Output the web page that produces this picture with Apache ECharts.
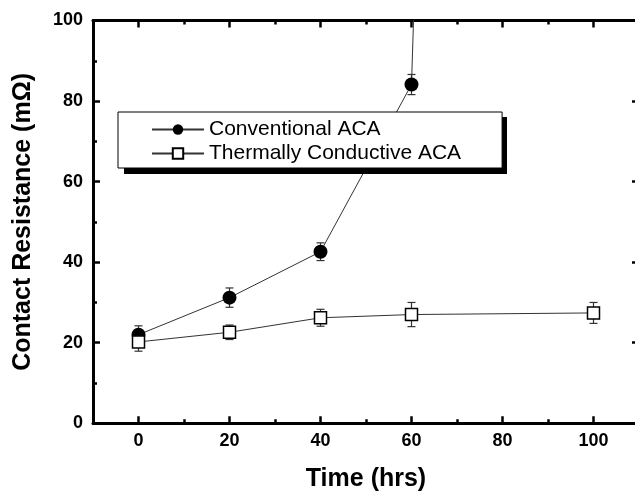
<!DOCTYPE html>
<html><head><meta charset="utf-8">
<script src="https://cdn.jsdelivr.net/npm/echarts@6/dist/echarts.min.js"></script>
<style>html,body{margin:0;padding:0;background:#fff}#c{width:635px;height:491px}</style>
</head><body><div id="c"></div>
<script>
// ---- data ----
const convTimes = [0, 20, 40, 60, 80];
const convValues = [22.0, 31.2, 42.6, 84.1, 800];
const convErr = [2.2, 2.4, 2.2, 2.5, null];
const tcaTimes = [0, 20, 40, 60, 100];
const tcaValues = [20.2, 22.6, 26.2, 27.0, 27.4];
const tcaErr = [2.3, 1.8, 2.1, 3.0, 2.6];
const xTickValues = [0, 20, 40, 60, 80, 100];
const seriesNames = ['Conventional ACA', 'Thermally Conductive ACA'];

const FONT = 'Liberation Sans, Arial, Helvetica, sans-serif';
const chart = echarts.init(document.getElementById('c'), null, {renderer: 'canvas'});

function pairs(xs, ys) { return xs.map((x, i) => [x, ys[i]]); }
function errData(xs, ys, es) {
  const out = [];
  xs.forEach((x, i) => { if (es[i] != null) out.push([x, ys[i] - es[i], ys[i] + es[i]]); });
  return out;
}
function errRender(params, api) {
  const x = api.value(0), lo = api.value(1), hi = api.value(2);
  const p1 = api.coord([x, hi]), p2 = api.coord([x, lo]);
  const w = 4;
  const st = {stroke: '#333', lineWidth: 1.2};
  return {type: 'group', children: [
    {type: 'line', shape: {x1: p1[0], y1: p1[1], x2: p2[0], y2: p2[1]}, style: st},
    {type: 'line', shape: {x1: p1[0] - w, y1: p1[1], x2: p1[0] + w, y2: p1[1]}, style: st},
    {type: 'line', shape: {x1: p2[0] - w, y1: p2[1], x2: p2[0] + w, y2: p2[1]}, style: st}
  ]};
}

const axisLineStyle = {show: true, onZero: false, lineStyle: {color: '#000', width: 3}};
const majorX = (pos, labels) => ({
  type: 'value', position: pos, min: -10, max: 110,
  axisLine: axisLineStyle,
  axisTick: {show: true, inside: true, length: 7, lineStyle: {color: '#000', width: 2.5}, customValues: xTickValues},
  axisLabel: labels ? {show: true, customValues: xTickValues, margin: 9, color: '#000', fontSize: 18, fontWeight: 'bold', fontFamily: FONT} : {show: false},
  splitLine: {show: false}
});
const minorX = (pos) => ({
  type: 'value', position: pos, min: -10, max: 110, interval: 10,
  axisLine: {show: false, onZero: false},
  axisTick: {show: true, inside: true, length: 4, lineStyle: {color: '#000', width: 2.5}},
  axisLabel: {show: false}, splitLine: {show: false}
});
const yAx = (pos, labels) => ({
  type: 'value', position: pos, min: 0, max: 100, interval: 20,
  axisLine: axisLineStyle,
  axisTick: {show: true, inside: true, length: 7, lineStyle: {color: '#000', width: 2.5}},
  minorTick: {show: true, splitNumber: 2, length: 4, lineStyle: {color: '#000', width: 2.5}},
  axisLabel: labels ? {show: true, margin: 10, color: '#000', fontSize: 18, fontWeight: 'bold', fontFamily: FONT} : {show: false},
  splitLine: {show: false}, minorSplitLine: {show: false}
});

const xMain = majorX('bottom', true);
xMain.name = 'Time (hrs)';
xMain.nameLocation = 'middle';
xMain.nameGap = 43;
xMain.nameTextStyle = {color: '#000', fontSize: 25, fontWeight: 'bold', fontFamily: FONT};
const yMain = yAx('left', true);
yMain.name = 'Contact Resistance (m\u03A9)';
yMain.nameLocation = 'middle';
yMain.nameGap = 57;
yMain.nameTextStyle = {color: '#000', fontSize: 25, fontWeight: 'bold', fontFamily: FONT};

const option = {
  animation: false,
  backgroundColor: '#fff',
  grid: {left: 93, right: -4, top: 20.5, bottom: 67.7, containLabel: false, outerBoundsMode: 'none'},
  xAxis: [xMain, minorX('bottom'), majorX('top', false), minorX('top')],
  yAxis: [yMain, yAx('right', false)],
  graphic: [{
    type: 'rect', left: 124, top: 117, z: 9, silent: true,
    shape: {width: 383, height: 57}, style: {fill: '#000'}
  }],
  legend: {
    data: seriesNames, orient: 'vertical', left: 118, top: 112,
    padding: [7, 41, 4, 33], itemGap: 3, itemWidth: 52, itemHeight: 13,
    backgroundColor: '#fff', borderColor: '#000', borderWidth: 1,
    textStyle: {color: '#000', fontSize: 21, fontFamily: FONT},
    z: 10
  },
  series: [
    {type: 'custom', name: 'convErr', xAxisIndex: 0, yAxisIndex: 0, renderItem: errRender,
     data: errData(convTimes, convValues, convErr), z: 1, silent: true},
    {type: 'custom', name: 'tcaErr', xAxisIndex: 0, yAxisIndex: 0, renderItem: errRender,
     data: errData(tcaTimes, tcaValues, tcaErr), z: 1, silent: true},
    {type: 'line', name: seriesNames[0], xAxisIndex: 0, yAxisIndex: 0,
     data: pairs(convTimes, convValues), clip: true,
     symbol: 'circle', symbolSize: 14,
     lineStyle: {color: '#333', width: 1},
     itemStyle: {color: '#000', borderColor: '#000', borderWidth: 0}, z: 3},
    {type: 'line', name: seriesNames[1], xAxisIndex: 0, yAxisIndex: 0,
     data: pairs(tcaTimes, tcaValues), clip: true,
     symbol: 'rect', symbolSize: 12,
     lineStyle: {color: '#333', width: 1},
     itemStyle: {color: '#fff', borderColor: '#000', borderWidth: 1.5}, z: 4}
  ]
};
chart.setOption(option);
</script></body></html>
